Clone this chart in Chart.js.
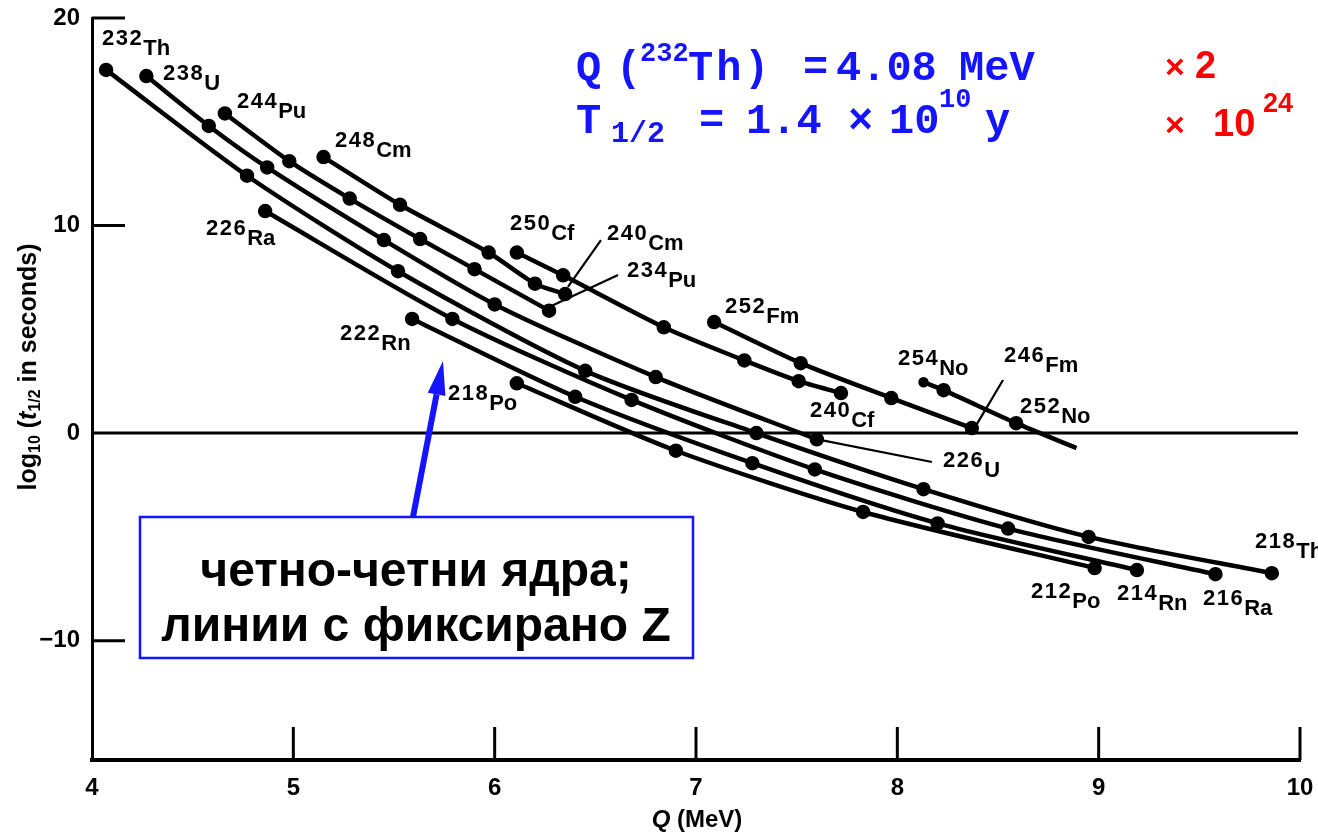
<!DOCTYPE html>
<html>
<head>
<meta charset="utf-8">
<script src="https://cdn.jsdelivr.net/npm/chart.js@4.4.1/dist/chart.umd.min.js"></script>
<style>
  html, body { margin: 0; padding: 0; background: #fff; }
  #wrap { width: 1318px; height: 834px; }
</style>
</head>
<body>
<div id="wrap"><canvas id="c" width="1318" height="834" role="img" aria-label="Geiger-Nuttall plot, log10 half-life vs Q"></canvas></div>
<script>
// axis ticks
const qTicks = [4, 5, 6, 7, 8, 9, 10];
const logTicks = [20, 10, 0, -10];

// [Q (MeV), log10(t1/2 in s)] for each fixed-Z chain
const th = [[4.07, 17.5], [4.77, 12.4], [5.52, 7.8], [6.45, 3.0], [7.30, 0.0], [8.13, -2.7], [8.95, -5.0], [9.86, -6.75]];
const u  = [[4.27, 17.2], [4.58, 14.8], [4.87, 12.8], [5.45, 9.3], [6.00, 6.2], [6.80, 2.7], [7.60, -0.3]];
const pu = [[4.66, 15.4], [4.98, 13.1], [5.28, 11.3], [5.63, 9.35], [5.90, 7.9], [6.27, 5.9]];
const cm = [[5.15, 13.3], [5.53, 11.0], [5.97, 8.7], [6.20, 7.2], [6.35, 6.7]];
const cf = [[6.11, 8.7], [6.34, 7.6], [6.84, 5.1], [7.24, 3.5], [7.51, 2.5], [7.72, 1.93]];
const fm = [[7.09, 5.35], [7.52, 3.37], [7.97, 1.69], [8.37, 0.24]];
const no = [[8.13, 2.45], [8.23, 2.07], [8.59, 0.48], [8.89, -0.72]];
const ra = [[4.86, 10.7], [5.79, 5.5], [6.68, 1.6], [7.59, -1.75], [8.55, -4.6], [9.58, -6.8]];
const rn = [[5.59, 5.5], [6.40, 1.75], [7.28, -1.45], [8.20, -4.35], [9.19, -6.6]];
const po = [[6.11, 2.4], [6.90, -0.85], [7.83, -3.8], [8.98, -6.5]];
const zeroLine = [[4, 0], [9.99, 0]];

// isotope labels: mass, symbol, anchor (Q, log t)
const labelSpots = [
  ['232', 'Th', 4.05, 18.22], ['238', 'U', 4.353, 16.53], ['244', 'Pu', 4.72, 15.18],
  ['248', 'Cm', 5.207, 13.3], ['226', 'Ra', 4.566, 9.06], ['250', 'Cf', 6.076, 9.3],
  ['240', 'Cm', 6.558, 8.82], ['234', 'Pu', 6.657, 7.04], ['252', 'Fm', 7.144, 5.3],
  ['222', 'Rn', 5.232, 4.0], ['218', 'Po', 5.768, 1.11], ['254', 'No', 8.003, 2.8],
  ['246', 'Fm', 8.53, 2.94], ['252', 'No', 8.609, 0.49], ['240', 'Cf', 7.566, 0.29],
  ['226', 'U', 8.227, -2.12], ['212', 'Po', 8.664, -8.43], ['214', 'Rn', 9.091, -8.52],
  ['216', 'Ra', 9.518, -8.76], ['218', 'Th', 9.777, -6.02]
];
// thin leader lines from labels to points
const pointers = [
  [6.528, 9.30, 6.364, 7.04],
  [6.613, 7.62, 6.26, 6.03],
  [8.525, 2.56, 8.386, 0.29],
  [8.172, -1.39, 7.616, -0.33]
];

const SANS = "'Liberation Sans', Arial, sans-serif";
const MONO = "'Liberation Mono', 'Courier New', monospace";
const BLUE = '#1414ff';

const toXY = arr => arr.map(([x, y]) => ({ x, y }));
const chain = (data, radius) => ({
  data: toXY(data), showLine: true, borderColor: '#000', backgroundColor: '#000',
  borderWidth: 4.5, pointRadius: radius || 5, pointHoverRadius: 5, tension: 0.25
});

function txt(ctx, s, x, y, font, color) {
  ctx.font = font; ctx.fillStyle = color || '#000'; ctx.fillText(s, x, y);
  return ctx.measureText(s).width;
}

const annot = {
  id: 'annot',
  afterDatasetsDraw(chart) {
    const { ctx, scales: { x, y } } = chart;
    const X = v => x.getPixelForValue(v), Y = v => y.getPixelForValue(v);
    ctx.save();
    ctx.textBaseline = 'alphabetic'; ctx.textAlign = 'left';

    // inward tick marks
    ctx.strokeStyle = '#000'; ctx.lineWidth = 3;
    qTicks.slice(1).forEach(q => {
      ctx.beginPath(); ctx.moveTo(X(q), y.bottom); ctx.lineTo(X(q), y.bottom - 33); ctx.stroke();
    });
    logTicks.filter(v => v !== 0).forEach(v => {
      ctx.beginPath(); ctx.moveTo(x.left, Y(v)); ctx.lineTo(x.left + 33, Y(v)); ctx.stroke();
    });

    // leader lines
    ctx.lineWidth = 2.2;
    pointers.forEach(([a, b, c, d]) => {
      ctx.beginPath(); ctx.moveTo(X(a), Y(b)); ctx.lineTo(X(c), Y(d)); ctx.stroke();
    });

    // isotope labels
    labelSpots.forEach(([mass, sym, q, v]) => {
      const px = X(q), py = Y(v);
      ctx.letterSpacing = '1.5px';
      const w = txt(ctx, mass, px, py - 10, 'bold 22px ' + SANS);
      ctx.letterSpacing = '0px';
      txt(ctx, sym, px + w, py, 'bold 22px ' + SANS);
    });

    // y axis title (rotated)
    ctx.save();
    ctx.translate(36, 367); ctx.rotate(-Math.PI / 2);
    const big = 'bold 25px ' + SANS, small = 'bold 16px ' + SANS;
    const parts = [['log', big, 0], ['10', small, 4], [' (', big, 0], ['t', 'italic bold 25px ' + SANS, 0],
                   ['1/2', small, 4], [' in seconds)', big, 0]];
    let total = 0;
    parts.forEach(([s, f]) => { ctx.font = f; total += ctx.measureText(s).width; });
    let cx = -total / 2;
    parts.forEach(([s, f, dy]) => { cx += txt(ctx, s, cx, dy, f); });
    ctx.restore();

    // x axis title
    ctx.font = 'bold 24px ' + SANS;
    let xw = ctx.measureText(' (MeV)').width;
    ctx.font = 'italic bold 24px ' + SANS;
    xw += ctx.measureText('Q').width;
    let xx = 697 - xw / 2;
    xx += txt(ctx, 'Q', xx, 827, 'italic bold 24px ' + SANS);
    txt(ctx, ' (MeV)', xx, 827, 'bold 24px ' + SANS);

    // blue box with arrow
    ctx.fillStyle = '#fff'; ctx.fillRect(140, 517, 553, 141);
    ctx.strokeStyle = BLUE; ctx.lineWidth = 2.5; ctx.strokeRect(140, 517, 553, 141);
    ctx.textAlign = 'center';
    txt(ctx, 'четно-четни ядра;', 416, 586, 'bold 48px ' + SANS);
    txt(ctx, 'линии с фиксирано Z', 416, 641, 'bold 48px ' + SANS);
    ctx.textAlign = 'left';
    const sx = 413, sy = 517, tx = 443, ty = 361;
    const ang = Math.atan2(ty - sy, tx - sx);
    const hl = 34, hw = 9;
    const bx = tx - hl * Math.cos(ang), by = ty - hl * Math.sin(ang);
    ctx.strokeStyle = BLUE; ctx.lineWidth = 6;
    ctx.beginPath(); ctx.moveTo(sx, sy); ctx.lineTo(bx, by); ctx.stroke();
    ctx.fillStyle = BLUE; ctx.beginPath();
    ctx.moveTo(tx, ty);
    ctx.lineTo(bx + hw * Math.sin(ang), by - hw * Math.cos(ang));
    ctx.lineTo(bx - hw * Math.sin(ang), by + hw * Math.cos(ang));
    ctx.closePath(); ctx.fill();

    // top-right note
    const m41 = 'bold 42px ' + MONO, m27 = 'bold 27px ' + MONO, m30 = 'bold 30px ' + MONO;
    txt(ctx, 'Q', 576, 80, m41, BLUE);
    txt(ctx, '(', 616, 80, m41, BLUE);
    txt(ctx, '232', 640, 61, m27, BLUE);
    ctx.letterSpacing = '3px';
    txt(ctx, 'Th', 688, 80, m41, BLUE);
    ctx.letterSpacing = '0px';
    txt(ctx, ')', 744, 80, m41, BLUE);
    txt(ctx, '=', 803, 80, m41, BLUE);
    txt(ctx, '4.08', 836, 80, m41, BLUE);
    txt(ctx, 'MeV', 959, 80, m41, BLUE);
    txt(ctx, 'T', 576, 133, m41, BLUE);
    txt(ctx, '1/2', 611, 142, m30, BLUE);
    txt(ctx, '=', 699, 133, m41, BLUE);
    txt(ctx, '1.4', 746, 133, m41, BLUE);
    txt(ctx, '×', 848, 133, m41, BLUE);
    txt(ctx, '10', 889, 133, m41, BLUE);
    txt(ctx, '10', 939, 107, m27, BLUE);
    txt(ctx, 'y', 985, 133, m41, BLUE);
    txt(ctx, '×', 1165, 78, 'bold 34px ' + SANS, '#ff0000');
    txt(ctx, '2', 1195, 78, 'bold 38px ' + SANS, '#ff0000');
    txt(ctx, '×', 1165, 136, 'bold 34px ' + SANS, '#ff0000');
    txt(ctx, '10', 1213, 136, 'bold 38px ' + SANS, '#ff0000');
    txt(ctx, '24', 1263, 112, 'bold 27px ' + SANS, '#ff0000');
    ctx.restore();
  }
};

new Chart(document.getElementById('c'), {
  type: 'scatter',
  data: {
    datasets: [
      { data: toXY(zeroLine), showLine: true, borderColor: '#000', borderWidth: 3, pointRadius: 0 },
      chain(th), chain(u), chain(pu), chain(cm), chain(cf), chain(fm),
      chain(no, [3, 5, 5, 0]), chain(ra), chain(rn), chain(po)
    ]
  },
  options: {
    responsive: false, animation: false, devicePixelRatio: 1,
    layout: { padding: { left: 0, right: 18, top: 18, bottom: 0 } },
    plugins: { legend: { display: false }, tooltip: { enabled: false } },
    scales: {
      x: {
        type: 'linear', min: 4, max: 10,
        afterBuildTicks: s => { s.ticks = qTicks.map(v => ({ value: v })); },
        afterFit: s => { s.height = 74; s.paddingLeft = 0; s.paddingRight = 0; },
        grid: { display: true, drawOnChartArea: false, drawTicks: false },
        border: { display: true, color: '#000', width: 4 },
        ticks: { padding: 14, color: '#000', font: { family: SANS, size: 24, weight: 'bold' } }
      },
      y: {
        type: 'linear', min: -15.75, max: 20,
        afterBuildTicks: s => { s.ticks = logTicks.map(v => ({ value: v })); },
        afterFit: s => { s.width = 92; s.paddingTop = 0; s.paddingBottom = 0; },
        grid: { display: true, drawOnChartArea: false, drawTicks: false },
        border: { display: true, color: '#000', width: 3 },
        ticks: { padding: 12, color: '#000', font: { family: SANS, size: 24, weight: 'bold' },
                 callback: v => v < 0 ? '\u2212' + Math.abs(v) : String(v) }
      }
    }
  },
  plugins: [annot]
});
</script>
</body>
</html>
